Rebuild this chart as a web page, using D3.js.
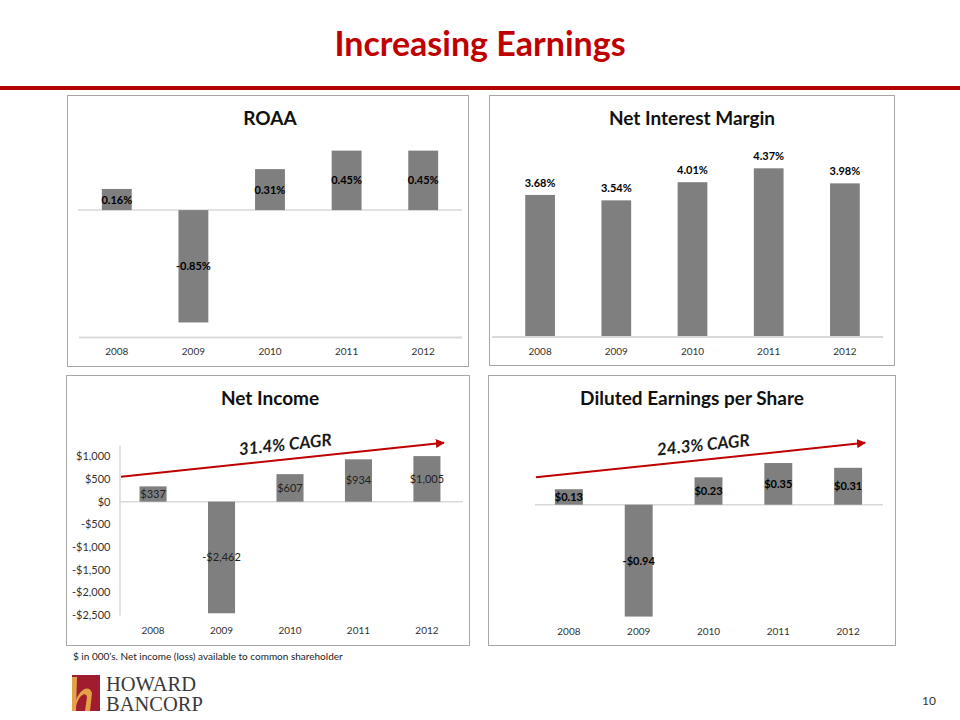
<!DOCTYPE html>
<html><head><meta charset="utf-8">
<script src="https://cdn.jsdelivr.net/npm/d3@7"></script>
<style>
body{margin:0;background:#fff}
svg{display:block}
text{font-family:Lato,"Open Sans","Noto Sans",sans-serif}
</style>
</head><body>
<svg id="c" width="960" height="720"></svg>
<script>
// ---------- data ----------
const pageTitle = "Increasing Earnings";
const years = ["2008", "2009", "2010", "2011", "2012"];
const roaa = [0.16, -0.85, 0.31, 0.45, 0.45];
const nim = [3.68, 3.54, 4.01, 4.37, 3.98];
const netIncome = [337, -2462, 607, 934, 1005];
const eps = [0.13, -0.94, 0.23, 0.35, 0.31];
const netIncomeTicks = [1000, 500, 0, -500, -1000, -1500, -2000, -2500];
const panelTitles = ["ROAA", "Net Interest Margin", "Net Income", "Diluted Earnings per Share"];
const niCagr = {label: "31.4% CAGR", from: 550, to: 1300};
const epsCagr = {label: "24.3% CAGR", from: 0.23, to: 0.52};
const footnote = "$ in 000\u2019s. Net income  (loss) available to common shareholder";
const logoLines = ["HOWARD", "BANCORP"];
const pageNumber = "10";

// ---------- page ----------
const svg = d3.select("#c");
const RED = "#C00000", BAR = "#7f7f7f", GRID = "#d9d9d9";

svg.append("text").attr("x", 480).attr("y", 56).attr("text-anchor", "middle")
  .attr("font-size", 34).attr("font-weight", 700).attr("fill", RED).text(pageTitle);
svg.append("rect").attr("x", 0).attr("y", 86).attr("width", 960).attr("height", 4).attr("fill", "#B00000");

const defs = svg.append("defs");
defs.append("marker").attr("id", "arr").attr("viewBox", "0 0 10 10").attr("refX", 9).attr("refY", 5)
  .attr("markerWidth", 4.5).attr("markerHeight", 4.5).attr("orient", "auto")
  .append("path").attr("d", "M0,0 L10,5 L0,10 z").attr("fill", RED);

function panel(x, y, w, h, title, tx) {
  svg.append("rect").attr("x", x + 0.5).attr("y", y + 0.5).attr("width", w).attr("height", h)
    .attr("fill", "#fff").attr("stroke", "#a6a6a6").attr("stroke-width", 1);
  svg.append("text").attr("x", tx).attr("y", y + 30).attr("text-anchor", "middle")
    .attr("font-size", 19).attr("font-weight", 700).attr("fill", "#111").text(title);
}
function yearAxis(g, x, yPos, pad, keepDomain) {
  const a = g.append("g").attr("transform", `translate(0,${yPos})`)
    .call(d3.axisBottom(x).tickSize(0).tickPadding(pad));
  a.selectAll("text").attr("font-size", 10).attr("fill", "#333").style("font-family", "Lato,'Open Sans',sans-serif");
  if (keepDomain) a.select(".domain").attr("stroke", GRID).attr("stroke-width", 2);
  else a.select(".domain").remove();
  return a;
}
function hline(x1, x2, y, w) {
  svg.append("line").attr("x1", x1).attr("x2", x2).attr("y1", y).attr("y2", y)
    .attr("stroke", GRID).attr("stroke-width", w || 1.5);
}
function bars(x, y, data) {
  svg.append("g").selectAll("rect").data(data).join("rect")
    .attr("x", (d, i) => x(years[i])).attr("width", x.bandwidth())
    .attr("y", d => y(Math.max(0, d))).attr("height", d => Math.abs(y(d) - y(0)))
    .attr("fill", BAR);
}
function centerLabels(x, y, data, fmt, weight, color) {
  svg.append("g").selectAll("text").data(data).join("text")
    .attr("x", (d, i) => x(years[i]) + x.bandwidth() / 2)
    .attr("y", d => (y(d) + y(0)) / 2 + 4)
    .attr("text-anchor", "middle").attr("font-size", 11).attr("font-weight", weight)
    .attr("fill", color).text(fmt);
}
function cagr(x, y, c) {
  const x1 = x.range()[0] + 2, x2 = x(years[4]) + x.bandwidth() / 2 + 17;
  const y1 = y(c.from), y2 = y(c.to);
  svg.append("line").attr("x1", x1).attr("y1", y1).attr("x2", x2).attr("y2", y2)
    .attr("stroke", RED).attr("stroke-width", 2).attr("marker-end", "url(#arr)");
  const ang = Math.atan2(y2 - y1, x2 - x1) * 180 / Math.PI;
  const t = 0.51, mx = x1 + (x2 - x1) * t, my = y1 + (y2 - y1) * t - 9;
  svg.append("text").attr("transform", `translate(${mx},${my}) rotate(${ang})`)
    .attr("text-anchor", "middle").attr("font-size", 17).attr("font-weight", 700)
    .attr("font-style", "italic").attr("fill", "#1a1a1a").text(c.label);
}
const pct = d => d.toFixed(2) + "%";
const dollars = d => (d < 0 ? "-$" : "$") + d3.format(",")(Math.abs(d));
const cents = d => (d < 0 ? "-$" : "$") + Math.abs(d).toFixed(2);

// ---------- ROAA ----------
panel(67, 95, 401, 271, panelTitles[0], 270);
{
  const x = d3.scaleBand().domain(years).range([78.5, 461.5]).paddingInner(0.61).paddingOuter(0.305);
  const y = d3.scaleLinear().domain([-0.96, 0.5]).range([337, 144]);
  hline(78, 462, y(0));
  bars(x, y, roaa);
  centerLabels(x, y, roaa, pct, 700, "#000");
  yearAxis(svg, x, 337, 11, true);
}
// ---------- NIM ----------
panel(489, 95, 405, 270, panelTitles[1], 692);
{
  const x = d3.scaleBand().domain(years).range([502, 883]).paddingInner(0.61).paddingOuter(0.305);
  const y = d3.scaleLinear().domain([0, 5]).range([337, 144]);
  bars(x, y, nim);
  hline(492, 883, 337, 2);
  svg.append("g").selectAll("text").data(nim).join("text")
    .attr("x", (d, i) => x(years[i]) + x.bandwidth() / 2).attr("y", d => y(d) - 8)
    .attr("text-anchor", "middle").attr("font-size", 11).attr("font-weight", 700)
    .attr("fill", "#000").text(pct);
  yearAxis(svg, x, 337, 11, false);
}
// ---------- Net Income ----------
panel(66, 375, 403, 270, panelTitles[2], 270);
{
  const x = d3.scaleBand().domain(years).range([119, 461]).paddingInner(0.605).paddingOuter(0.3);
  const y = d3.scaleLinear().domain([-2500, 1250]).range([615, 445]);
  const ax = svg.append("g").attr("transform", "translate(119.5,0)")
    .call(d3.axisLeft(y).tickValues(netIncomeTicks).tickFormat(dollars).tickSize(0).tickPadding(9));
  ax.select(".domain").attr("stroke", GRID).attr("stroke-width", 1.5);
  ax.selectAll("text").attr("font-size", 11).attr("fill", "#333").style("font-family", "Lato,'Open Sans',sans-serif");
  hline(119, 463, y(0));
  bars(x, y, netIncome);
  centerLabels(x, y, netIncome, dollars, 400, "#222");
  yearAxis(svg, x, 615, 12, false);
  cagr(x, y, niCagr);
}
svg.append("text").attr("x", 73).attr("y", 660).attr("font-size", 10).attr("fill", "#222").text(footnote);
// ---------- EPS ----------
panel(488, 375, 407, 270, panelTitles[3], 692);
{
  const x = d3.scaleBand().domain(years).range([534, 883]).paddingInner(0.6).paddingOuter(0.3);
  const y = d3.scaleLinear().domain([-1, 0.6]).range([623.7, 433.3]);
  hline(535, 883, y(0));
  bars(x, y, eps);
  centerLabels(x, y, eps, cents, 700, "#000");
  yearAxis(svg, x, 615, 13, false);
  cagr(x, y, epsCagr);
}

// ---------- logo & page number ----------
const logo = svg.append("g");
logo.append("rect").attr("x", 72).attr("y", 675).attr("width", 28).attr("height", 36).attr("fill", "#A01C2E");
logo.append("path").attr("d", "M72,677 L77,677 L76,711 L72,711 Z").attr("fill", "#E3A148");
logo.append("path").attr("d", "M75,703 C79,689 89,684 92,693 L90,711 L85,711 L87,697 C86,692 80,693 76,706 Z").attr("fill", "#E3A148");
logo.selectAll("text.l").data(logoLines).join("text")
  .attr("x", 106).attr("y", (d, i) => 691 + i * 20)
  .attr("font-size", 20.5).attr("fill", "#3a3a3a")
  .style("font-family", "'Liberation Serif','DejaVu Serif',serif").text(d => d);
svg.append("text").attr("x", 936).attr("y", 705).attr("text-anchor", "end")
  .attr("font-size", 12).attr("fill", "#333").text(pageNumber);
</script>
</body></html>
